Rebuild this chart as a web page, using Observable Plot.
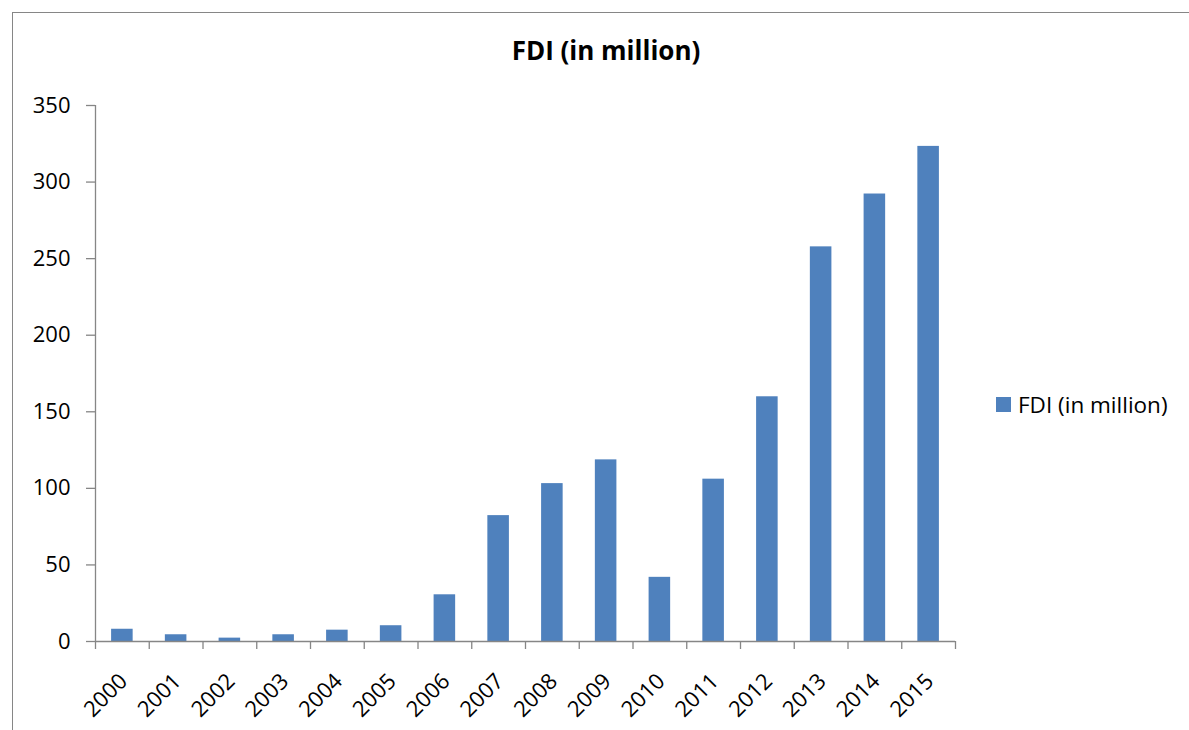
<!DOCTYPE html>
<html>
<head>
<meta charset="utf-8">
<script src="https://cdn.jsdelivr.net/npm/d3@7"></script>
<script src="https://cdn.jsdelivr.net/npm/@observablehq/plot@0.6"></script>
<style>
  html, body { margin: 0; padding: 0; background: #fff; }
  #wrap { position: relative; width: 1189px; height: 730px; overflow: hidden; font-family: "Open Sans", sans-serif; }
  #frame { position: absolute; left: 12px; top: 12px; width: 1200px; height: 800px; border-left: 1px solid #868686; border-top: 1px solid #868686; }
  #title { position: absolute; left: 0; width: 1212px; top: 32px; text-align: center; font-weight: bold; font-size: 26px; color: #000; }
  #chart { position: absolute; left: 0; top: 0; }
  #legend { position: absolute; left: 996px; top: 389px; display: flex; align-items: center; font-size: 22.5px; color: #000; }
  #legend .sw { width: 15px; height: 15px; background: #4F81BD; margin-right: 7px; }
</style>
</head>
<body>
<div id="wrap">
  <div id="frame"></div>
  <div id="title">FDI (in million)</div>
  <div id="chart"></div>
  <div id="legend"><div class="sw"></div><span>FDI (in million)</span></div>
</div>
<script>
const years = [2000, 2001, 2002, 2003, 2004, 2005, 2006, 2007, 2008, 2009, 2010, 2011, 2012, 2013, 2014, 2015];
const fdi = [8, 4.4, 2.2, 4.4, 7.4, 10.3, 30.5, 82.2, 103.1, 118.6, 41.9, 106, 159.8, 257.7, 292.2, 323.3];
const yTicks = [0, 50, 100, 150, 200, 250, 300, 350];
const boundaries = [...years, 2016];

const data = years.map((year, i) => ({year, value: fdi[i]}));

const chart = Plot.plot({
  width: 1189,
  height: 730,
  marginLeft: 95,
  marginRight: 234,
  marginTop: 105,
  marginBottom: 89,
  style: { fontFamily: "Open Sans, sans-serif", fontSize: "22px", color: "#000", background: "transparent" },
  x: { type: "linear", domain: [2000, 2016] },
  y: { domain: [0, 350] },
  marks: [
    Plot.rectY(data, { x: "year", y: "value", interval: 1, insetLeft: 16.1, insetRight: 16.1, fill: "#4F81BD" }),
    Plot.ruleY([0], { stroke: "#868686", strokeWidth: 1.3 }),
    Plot.axisX({ ticks: boundaries, tickSize: 8, tickFormat: () => "", stroke: "#868686", strokeWidth: 1.3, label: null, strokeOpacity: 1 }),
    Plot.text(years, { x: d => d, y: 0, text: d => String(d), dx: 22, dy: 30, rotate: -45, textAnchor: "end", lineAnchor: "top", fontSize: 22, fill: "#000" }),
    Plot.ruleX([2000], { stroke: "#868686", strokeWidth: 1.3 }),
    Plot.axisY({ ticks: yTicks, tickSize: 9, tickPadding: 16, stroke: "#868686", strokeWidth: 1.3, strokeOpacity: 1, label: null, fill: "#000" })
  ]
});
document.getElementById("chart").appendChild(chart);
</script>
</body>
</html>
